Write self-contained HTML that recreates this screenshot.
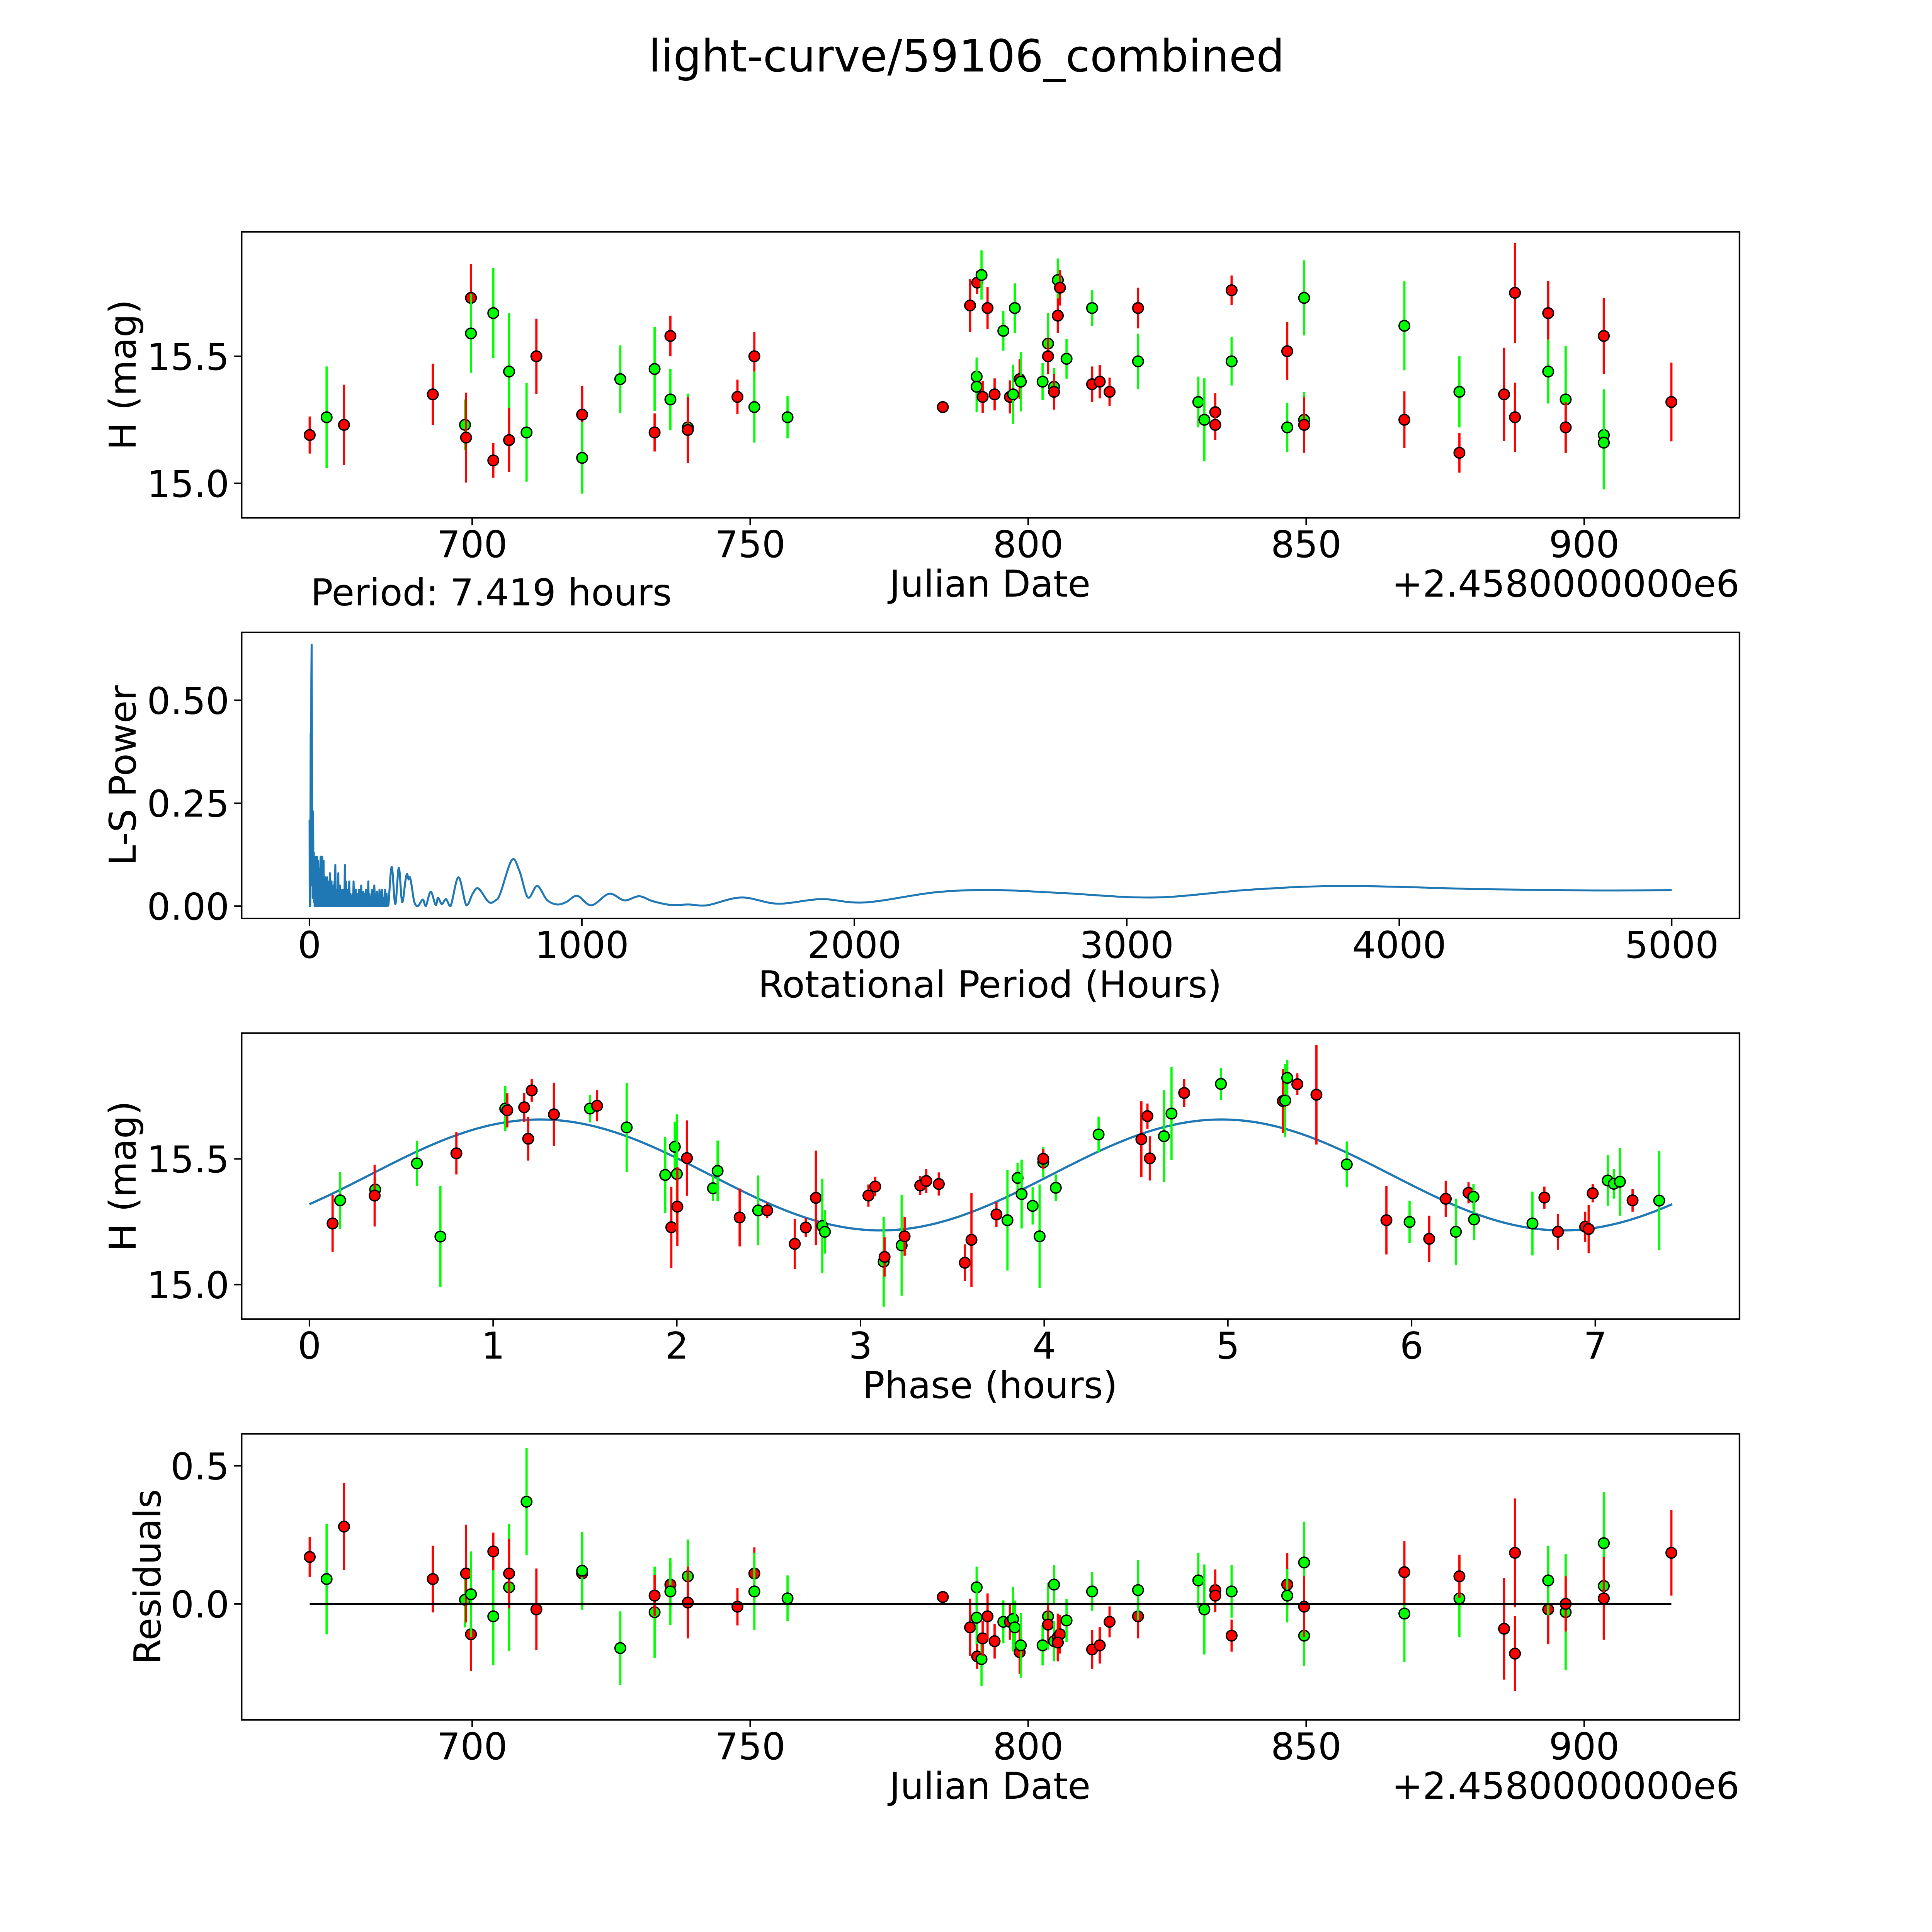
<!DOCTYPE html>
<html><head><meta charset="utf-8"><style>
html,body{margin:0;padding:0;background:#fff;width:5400px;height:5400px;overflow:hidden;}
svg{display:block;width:5400px;height:5400px;}
text{font-family:"DejaVu Sans","Liberation Sans",sans-serif;fill:#000;}
</style></head><body>
<svg id="fig" xmlns="http://www.w3.org/2000/svg" width="5400" height="5400" viewBox="0 0 1692.5 1692.5" preserveAspectRatio="xMinYMin meet">
<rect x="0" y="0" width="1692.5" height="1692.5" fill="#fff"/>
<text x="784" y="58" font-size="36" text-anchor="middle">light-curve/59106_combined</text>
</svg>
<script>
// ---------- Panel 1: light curve data ----------
const lcJD = [670.78,673.82,676.95,692.92,698.71,698.9,699.78,699.78,703.8,703.8,706.64,706.64,709.78,711.55,719.78,719.78,726.64,732.81,732.81,735.65,735.65,738.79,738.79,747.71,750.75,750.75,756.72,784.65,789.55,790.73,790.73,790.83,791.61,791.81,792.69,793.96,795.53,796.71,797.29,797.59,798.47,798.67,802.59,803.57,803.57,804.65,804.65,805.33,805.72,805.33,806.9,811.5,811.5,812.87,814.64,819.76,819.76,830.6,831.69,833.65,833.65,836.59,836.59,846.59,846.59,849.63,849.63,849.63,867.66,867.66,877.56,877.56,885.59,887.55,887.55,893.53,893.53,896.67,896.67,903.53,903.53,903.53,915.68];
const lcMag = [15.19,15.26,15.23,15.35,15.23,15.18,15.73,15.59,15.67,15.09,15.44,15.17,15.20,15.50,15.27,15.10,15.41,15.45,15.20,15.58,15.33,15.22,15.21,15.34,15.50,15.30,15.26,15.30,15.70,15.42,15.38,15.79,15.82,15.34,15.69,15.35,15.60,15.34,15.35,15.69,15.41,15.40,15.40,15.55,15.50,15.38,15.36,15.80,15.77,15.66,15.49,15.69,15.39,15.40,15.36,15.69,15.48,15.32,15.25,15.28,15.23,15.76,15.48,15.52,15.22,15.73,15.25,15.23,15.62,15.25,15.36,15.12,15.35,15.75,15.26,15.67,15.44,15.33,15.22,15.19,15.16,15.58,15.32];
const lcErr = [0.073,0.2,0.158,0.121,0.1,0.177,0.133,0.155,0.177,0.068,0.23,0.126,0.194,0.148,0.114,0.141,0.133,0.165,0.075,0.08,0.121,0.133,0.13,0.068,0.095,0.14,0.083,0.02,0.104,0.075,0.1,0.045,0.097,0.063,0.083,0.063,0.078,0.065,0.117,0.097,0.078,0.117,0.073,0.121,0.07,0.073,0.07,0.085,0.07,0.068,0.078,0.07,0.07,0.066,0.056,0.08,0.109,0.1,0.163,0.075,0.06,0.058,0.095,0.114,0.097,0.148,0.11,0.11,0.175,0.112,0.14,0.078,0.184,0.197,0.136,0.126,0.126,0.21,0.1,0.18,0.184,0.15,0.155];
const lcColor = ["R","G","R","R","G","R","R","G","G","R","G","R","G","R","R","G","G","G","R","R","G","G","R","R","R","G","G","R","R","G","G","R","G","R","R","R","G","R","G","G","R","G","G","G","R","G","R","G","R","R","G","G","R","R","R","R","G","G","G","R","R","R","G","R","G","G","G","R","G","R","G","R","R","R","R","R","G","G","R","G","G","R","R"];
const lcXTicks = [700,750,800,850,900];
const lcXTickLabels = ["700","750","800","850","900"];
const lcYTicks = [15.0,15.5];
const lcYTickLabels = ["15.0","15.5"];

// ---------- Panel 4: residuals ----------
const resVal = [0.17,0.09,0.28,0.09,0.015,0.11,-0.11,0.035,-0.045,0.19,0.06,0.11,0.37,-0.02,0.11,0.12,-0.16,-0.03,0.03,0.07,0.045,0.1,0.005,-0.01,0.11,0.045,0.02,0.025,-0.085,0.06,-0.05,-0.19,-0.2,-0.125,-0.045,-0.135,-0.065,-0.065,-0.055,-0.085,-0.175,-0.15,-0.15,-0.045,-0.075,-0.135,0.07,-0.12,-0.11,-0.14,-0.06,0.045,-0.165,-0.15,-0.065,-0.045,0.05,0.085,-0.02,0.05,0.03,-0.115,0.045,0.07,0.03,0.15,-0.115,-0.01,-0.035,0.115,0.02,0.1,-0.09,0.185,-0.18,-0.02,0.085,-0.03,0.0,0.065,0.22,0.02,0.185];
const resColor = ["R","G","R","R","G","R","R","G","G","R","G","R","G","R","R","G","G","G","R","R","G","G","R","R","R","G","G","R","R","G","G","R","G","R","R","R","G","R","G","G","R","G","G","G","R","G","G","R","R","R","G","G","R","R","R","R","G","G","G","R","R","R","G","R","G","G","G","R","G","R","G","R","R","R","R","R","G","G","R","G","G","R","R"];
const resYTicks = [0.0,0.5];
const resYTickLabels = ["0.0","0.5"];

// ---------- Panel 2: periodogram ----------
const lsPeriod = [
 0.5,1,2,3,4.5,5.5,7,8,9,10,
 11,12,13.5,15,16,17,18,19,20,21,
 22,23,24,25,26,27,28,29,30,31,
 32,33,34,36,37,38,40,41,42,43,
 45,47,48,49,51,52,53,55,57,58,
 59,61,63,65,66,68,70,72,73,75,
 77,78,79,81,83,85,86,88,90,92,
 93,95,97,98,100,102,104,106,107,109,
 111,112,113,115,117,119,120,122,124,126,
 128,130,132,134,136,138,140,142,144,146,
 148,150,151,153,156,158,160,162,164,166,
 168,170,172,174,176,178,180,182,184,186,
 188,190,192,194,196,198,200,202,205,207,
 209,211,214,216,218,220,223,225,227,229,
 232,234,236,238,242,244,246,248,251,253,
 255,257,260,262,265,267,270,273,276,278,
 281,283,287,290,302,315,328,340,352,358,
 364,369,375,385,398,416,427,445,463,472,
 486,501,518,547,576,599,620,658,683,700,
 743,771,802,836,872,909,943,983,1035,1100,
 1156,1210,1260,1325,1392,1459,1585,1719,1879,2040,
 2303,2517,2758,3101,3455,3804,4313,4715,5000];
const lsPower = [
 0.21,0,0.2,0,0.42,0.05,0.55,0.635,0.45,0.1,
 0.21,0.02,0.23,0.03,0.13,0.01,0.11,0,0.12,0.02,
 0.1,0,0.12,0.01,0.09,0,0.12,0.01,0.1,0,
 0.11,0.02,0.08,0,0.09,0,0.1,0.12,0,0.08,
 0,0.12,0.02,0,0.09,0.11,0,0.06,0,0.07,
 0.01,0.05,0,0.07,0,0.05,0,0.06,0,0.08,
 0.01,0.05,0,0.06,0,0.04,0,0.05,0,0.06,
 0,0.1,0,0.04,0,0.03,0,0.08,0,0.04,
 0,0.05,0,0.04,0,0.03,0,0.04,0,0.03,
 0,0.1,0,0.06,0,0.04,0,0.03,0,0.06,
 0,0.03,0,0.025,0,0.03,0,0.06,0,0.02,
 0,0.04,0,0.025,0,0.03,0,0.04,0,0.02,
 0,0.05,0,0.02,0,0.035,0,0.03,0,0.04,
 0,0.02,0,0.06,0,0.03,0,0.02,0,0.04,
 0,0.02,0,0.05,0,0.03,0,0.035,0,0.02,
 0,0.04,0,0.035,0,0.04,0,0.02,0,0.04,
 0,0.03,0,0.003,0.095,0.005,0.093,0.01,0.06,0.078,
 0.065,0.07,0.05,0.01,0,0.016,0,0.035,0.003,0.02,
 0.005,0.017,0,0.07,0.002,0.03,0.043,0.01,0.014,0.03,
 0.112,0.085,0.021,0.049,0.015,0.004,0.01,0.025,0.002,0.03,
 0.014,0.024,0.012,0.003,0.004,0.002,0.021,0.006,0.017,0.009,
 0.034,0.039,0.032,0.021,0.04,0.049,0.041,0.038,0.039];
const lsXTicks = [0,1000,2000,3000,4000,5000];
const lsXTickLabels = ["0","1000","2000","3000","4000","5000"];
const lsYTicks = [0.0,0.25,0.5];
const lsYTickLabels = ["0.00","0.25","0.50"];

// ---------- Panel 3: phased light curve ----------
const phPhase = [0.126,0.167,0.358,0.355,0.585,0.713,0.80,1.066,1.077,1.169,1.191,1.21,1.331,1.527,1.566,1.727,1.937,1.97,1.989,2.0,2.003,2.055,2.197,2.222,2.342,2.443,2.492,2.642,2.702,2.757,2.792,2.806,3.043,3.08,3.126,3.131,3.224,3.24,3.325,3.358,3.426,3.568,3.604,3.74,3.80,3.855,3.877,3.937,3.975,3.995,3.995,4.063,4.296,4.529,4.562,4.575,4.652,4.693,4.762,4.962,5.299,5.312,5.323,5.378,5.482,5.647,5.863,5.989,6.096,6.186,6.241,6.31,6.337,6.34,6.658,6.723,6.797,6.945,6.964,6.986,7.068,7.101,7.134,7.203,7.348];
const phMag = [15.243,15.335,15.378,15.354,15.482,15.191,15.522,15.70,15.693,15.705,15.58,15.772,15.677,15.70,15.711,15.625,15.436,15.228,15.548,15.44,15.31,15.503,15.383,15.452,15.267,15.295,15.295,15.162,15.227,15.345,15.233,15.21,15.354,15.39,15.091,15.11,15.156,15.192,15.394,15.412,15.4,15.087,15.178,15.279,15.256,15.424,15.36,15.313,15.192,15.486,15.5,15.385,15.597,15.578,15.67,15.502,15.59,15.68,15.762,15.798,15.73,15.732,15.822,15.797,15.755,15.478,15.256,15.249,15.182,15.341,15.21,15.365,15.349,15.259,15.243,15.346,15.21,15.23,15.221,15.363,15.414,15.401,15.409,15.335,15.334];
const phErr = [0.113,0.113,0.05,0.123,0.09,0.2,0.084,0.09,0.068,0.058,0.087,0.045,0.126,0.055,0.062,0.177,0.151,0.161,0.1,0.237,0.157,0.15,0.05,0.121,0.115,0.139,0.031,0.1,0.038,0.188,0.188,0.087,0.044,0.039,0.179,0.078,0.2,0.077,0.038,0.048,0.046,0.073,0.187,0.05,0.2,0.06,0.137,0.074,0.206,0.06,0.04,0.053,0.071,0.151,0.05,0.088,0.183,0.185,0.056,0.063,0.127,0.146,0.07,0.043,0.198,0.091,0.136,0.084,0.092,0.072,0.132,0.042,0.05,0.083,0.127,0.044,0.071,0.06,0.096,0.036,0.101,0.059,0.135,0.045,0.197];
const phColor = ["R","G","G","R","G","G","R","G","R","R","R","R","R","G","R","G","G","R","G","G","R","R","G","G","R","G","R","R","R","R","G","G","R","R","G","R","G","R","R","R","R","R","R","R","G","G","G","G","G","G","R","G","G","R","R","R","G","G","R","G","R","G","G","R","R","G","R","G","R","R","G","R","G","G","G","R","R","R","R","R","G","G","G","R","G"];
// fitted model parameters: [mean, amplitude, peak phase, model period, span]
const fitParams = [15.436, 0.2205, 1.255, 3.7095, 7.419];
const phXTicks = [0,1,2,3,4,5,6,7];
const phXTickLabels = ["0","1","2","3","4","5","6","7"];
const phYTicks = [15.0,15.5];
const phYTickLabels = ["15.0","15.5"];

const NS = "http://www.w3.org/2000/svg";
const svg = document.getElementById("fig");
const COL = {R:"#ff0000", G:"#00ff00"};
function mk(tag, attrs, parent) {
  const e = document.createElementNS(NS, tag);
  for (const k in attrs) e.setAttribute(k, attrs[k]);
  (parent || svg).appendChild(e);
  return e;
}
function lin(d0, d1, r0, r1) { return v => r0 + (v - d0) * (r1 - r0) / (d1 - d0); }

const L = 196, R = 1411;
const panels = [
  {top:188, bot:420},
  {top:513, bot:745},
  {top:838, bot:1070},
  {top:1163, bot:1395}
];

function frame(p, name) {
  const g = mk("g", {});
  
  
  const r = mk("rect", {x:L, y:p.top, width:R-L, height:p.bot-p.top, fill:"none", stroke:"#000", "stroke-width":1.3}, g);
  
  
  return g;
}
function xTicks(g, p, ticks, labels, sx) {
  ticks.forEach((t, i) => {
    const x = sx(t);
    const tk = mk("line", {x1:x, x2:x, y1:p.bot, y2:p.bot+6, stroke:"#000", "stroke-width":1.2}, g);
    
    
    const tx = mk("text", {x:x, y:p.bot+32, "font-size":30, "text-anchor":"middle"}, g);
    
    
    tx.textContent = labels[i];
  });
}
function yTicks(g, p, ticks, labels, sy) {
  ticks.forEach((t, i) => {
    const y = sy(t);
    const tk = mk("line", {x1:L-6, x2:L, y1:y, y2:y, stroke:"#000", "stroke-width":1.2}, g);
    
    
    const tx = mk("text", {x:L-10, y:y+11, "font-size":30, "text-anchor":"end"}, g);
    
    
    tx.textContent = labels[i];
  });
}
function label(g, txt, x, y, rot, name, anchor) {
  const t = mk("text", {x:x, y:y, "font-size":30, "text-anchor":anchor || "middle"}, g);
  if (rot) t.setAttribute("transform", "rotate(-90 " + x + " " + y + ")");
  
  
  t.textContent = txt;
  return t;
}
function errPoint(g, x, y, e1, e2, c, name) {
  const ln = mk("line", {x1:x, x2:x, y1:e1, y2:e2, stroke:COL[c], "stroke-width":1.8}, g);
  
  
  const ci = mk("circle", {cx:x, cy:y, r:4.3, fill:COL[c], stroke:"#000", "stroke-width":1.1}, g);
  
  
}

// Panel 1
{
  const p = panels[0];
  const sx = lin(700, 900, 383, 1285);
  const sy = lin(15.0, 15.5, 392, 289);
  const g = frame(p, 'light-curve-panel');
  xTicks(g, p, lcXTicks, lcXTickLabels, sx);
  yTicks(g, p, lcYTicks, lcYTickLabels, sy);
  label(g, "H (mag)", 110, (p.top+p.bot)/2, true, 'y-axis-title');
  label(g, "Julian Date", 803, p.bot+64, false, 'x-axis-title');
  label(g, "+2.4580000000e6", R, p.bot+64, false, 'x-offset-label', "end");
  label(g, "Period: 7.419 hours", 252, p.bot+71, false, 'period-label', "start");
  const pts = mk("g", {}, g);
  
  
  lcJD.forEach((jd, i) => {
    errPoint(pts, sx(jd), sy(lcMag[i]), sy(lcMag[i]+lcErr[i]), sy(lcMag[i]-lcErr[i]), lcColor[i], 'observation-point');
  });
}

// Panel 2
{
  const p = panels[1];
  const sx = lin(0, 5000, 251, 1356);
  const sy = lin(0, 0.5, 735, 568);
  const g = frame(p, 'periodogram-panel');
  xTicks(g, p, lsXTicks, lsXTickLabels, sx);
  yTicks(g, p, lsYTicks, lsYTickLabels, sy);
  label(g, "L-S Power", 110, (p.top+p.bot)/2, true, 'y-axis-title');
  label(g, "Rotational Period (Hours)", 803, p.bot+64, false, 'x-axis-title');
  const n = Math.min(lsPeriod.length, lsPower.length);
  const px = [], py = [];
  for (let i = 0; i < n; i++) { px.push(sx(lsPeriod[i])); py.push(sy(lsPower[i])); }
  let d = "M" + px[0].toFixed(2) + " " + py[0].toFixed(2);
  for (let i = 1; i < n; i++) {
    if (lsPeriod[i] > 290) {
      // smooth (Catmull-Rom) for the broad low-frequency humps
      const x0 = px[Math.max(i-2,0)], y0 = py[Math.max(i-2,0)];
      const x1 = px[i-1], y1 = py[i-1], x2 = px[i], y2 = py[i];
      const x3 = px[Math.min(i+1,n-1)], y3 = py[Math.min(i+1,n-1)];
      const c1x = x1 + (x2 - x0) / 6, c1y = y1 + (y2 - y0) / 6;
      const c2x = x2 - (x3 - x1) / 6, c2y = y2 - (y3 - y1) / 6;
      d += "C" + c1x.toFixed(2) + " " + Math.min(c1y, 735).toFixed(2) + " " + c2x.toFixed(2) + " " + Math.min(c2y, 735).toFixed(2) + " " + x2.toFixed(2) + " " + y2.toFixed(2);
    } else {
      d += "L" + px[i].toFixed(2) + " " + py[i].toFixed(2);
    }
  }
  const path = mk("path", {d:d, fill:"none", stroke:"#1f77b4", "stroke-width":1.6, "stroke-linejoin":"round"}, g);
  
  
}

// Panel 3
{
  const p = panels[2];
  const sx = lin(0, 7, 251, 1294);
  const sy = lin(15.0, 15.5, 1042, 940);
  const g = frame(p, 'phased-curve-panel');
  xTicks(g, p, phXTicks, phXTickLabels, sx);
  yTicks(g, p, phYTicks, phYTickLabels, sy);
  label(g, "H (mag)", 110, (p.top+p.bot)/2, true, 'y-axis-title');
  label(g, "Phase (hours)", 803, p.bot+64, false, 'x-axis-title');
  let d = "";
  const n = 300;
  for (let i = 0; i <= n; i++) {
    const ph = fitParams[4] * i / n;
    const m = fitParams[0] + fitParams[1] * Math.cos(2 * Math.PI * (ph - fitParams[2]) / fitParams[3]);
    d += (i ? "L" : "M") + sx(ph).toFixed(2) + " " + sy(m).toFixed(2);
  }
  const path = mk("path", {d:d, fill:"none", stroke:"#1f77b4", "stroke-width":1.8}, g);
  
  
  const pts = mk("g", {}, g);
  
  
  phPhase.forEach((ph, i) => {
    errPoint(pts, sx(ph), sy(phMag[i]), sy(phMag[i]+phErr[i]), sy(phMag[i]-phErr[i]), phColor[i], 'phased-point');
  });
}

// Panel 4
{
  const p = panels[3];
  const sx = lin(700, 900, 383, 1285);
  const sy = lin(0, 0.5, 1301, 1189);
  const g = frame(p, 'residuals-panel');
  xTicks(g, p, lcXTicks, lcXTickLabels, sx);
  yTicks(g, p, resYTicks, resYTickLabels, sy);
  label(g, "Residuals", 130, (p.top+p.bot)/2, true, 'y-axis-title');
  label(g, "Julian Date", 803, p.bot+64, false, 'x-axis-title');
  label(g, "+2.4580000000e6", R, p.bot+64, false, 'x-offset-label', "end");
  const pts = mk("g", {}, g);
  
  
  lcJD.forEach((jd, i) => {
    errPoint(pts, sx(jd), sy(resVal[i]), sy(resVal[i]+lcErr[i]), sy(resVal[i]-lcErr[i]), resColor[i], 'residual-point');
  });
  const zl = mk("line", {x1:sx(Math.min(...lcJD)), x2:sx(Math.max(...lcJD)), y1:sy(0), y2:sy(0), stroke:"#000", "stroke-width":1.6}, g);
  
  
}
</script>
</body></html>
